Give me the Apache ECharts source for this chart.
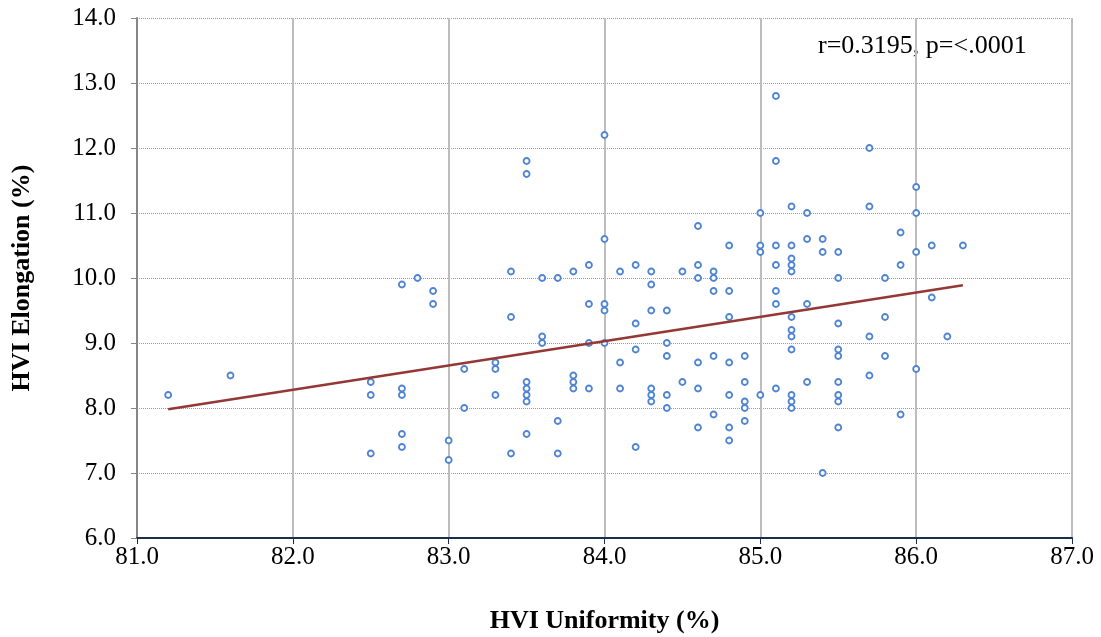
<!DOCTYPE html>
<html>
<head>
<meta charset="utf-8">
<title>HVI Uniformity vs Elongation</title>
<script src="https://cdn.jsdelivr.net/npm/echarts@6/dist/echarts.min.js"></script>
<style>
    html, body { margin: 0; padding: 0; background: #fff; }
    #chart { width: 1101px; height: 637px; }
</style>
</head>
<body>
<div id="chart"></div>
<script>
// HVI uniformity (x) and elongation (y), one entry per sample
const uniformity = [
    81.2, 81.6, 82.5, 82.5, 82.5, 82.7, 82.7, 82.7, 82.7, 82.7,
    82.8, 82.9, 82.9, 83.0, 83.0, 83.1, 83.1, 83.3, 83.3, 83.3,
    83.4, 83.4, 83.4, 83.5, 83.5, 83.5, 83.5, 83.5, 83.5, 83.5,
    83.6, 83.6, 83.6, 83.7, 83.7, 83.7, 83.8, 83.8, 83.8, 83.8,
    83.9, 83.9, 83.9, 83.9, 84.0, 84.0, 84.0, 84.0, 84.0, 84.1,
    84.1, 84.1, 84.2, 84.2, 84.2, 84.2, 84.3, 84.3, 84.3, 84.3,
    84.3, 84.3, 84.4, 84.4, 84.4, 84.4, 84.4, 84.5, 84.5, 84.6,
    84.6, 84.6, 84.6, 84.6, 84.6, 84.7, 84.7, 84.7, 84.7, 84.7,
    84.8, 84.8, 84.8, 84.8, 84.8, 84.8, 84.8, 84.9, 84.9, 84.9,
    84.9, 84.9, 85.0, 85.0, 85.0, 85.0, 85.1, 85.1, 85.1, 85.1,
    85.1, 85.1, 85.1, 85.2, 85.2, 85.2, 85.2, 85.2, 85.2, 85.2,
    85.2, 85.2, 85.2, 85.2, 85.2, 85.3, 85.3, 85.3, 85.3, 85.4,
    85.4, 85.4, 85.5, 85.5, 85.5, 85.5, 85.5, 85.5, 85.5, 85.5,
    85.5, 85.7, 85.7, 85.7, 85.7, 85.8, 85.8, 85.8, 85.9, 85.9,
    85.9, 86.0, 86.0, 86.0, 86.0, 86.1, 86.1, 86.2, 86.3,
];
const elongation = [
    8.2, 8.5, 8.4, 8.2, 7.3, 9.9, 8.3, 8.2, 7.6, 7.4,
    10.0, 9.8, 9.6, 7.5, 7.2, 8.6, 8.0, 8.7, 8.6, 8.2,
    10.1, 9.4, 7.3, 11.8, 11.6, 8.4, 8.3, 8.2, 8.1, 7.6,
    10.0, 9.1, 9.0, 10.0, 7.8, 7.3, 10.1, 8.5, 8.4, 8.3,
    10.2, 9.6, 9.0, 8.3, 12.2, 10.6, 9.6, 9.5, 9.0, 10.1,
    8.7, 8.3, 10.2, 9.3, 8.9, 7.4, 10.1, 9.9, 9.5, 8.3,
    8.2, 8.1, 9.5, 9.0, 8.8, 8.2, 8.0, 10.1, 8.4, 10.8,
    10.2, 10.0, 8.7, 8.3, 7.7, 10.1, 10.0, 9.8, 8.8, 7.9,
    10.5, 9.8, 9.4, 8.7, 8.2, 7.7, 7.5, 8.8, 8.4, 8.1,
    8.0, 7.8, 11.0, 10.5, 10.4, 8.2, 12.8, 11.8, 10.5, 10.2,
    9.8, 9.6, 8.3, 11.1, 10.5, 10.3, 10.2, 10.1, 9.4, 9.2,
    9.1, 8.9, 8.2, 8.1, 8.0, 11.0, 10.6, 9.6, 8.4, 10.6,
    10.4, 7.0, 10.4, 10.0, 9.3, 8.9, 8.8, 8.4, 8.2, 8.1,
    7.7, 12.0, 11.1, 9.1, 8.5, 10.0, 9.4, 8.8, 10.7, 10.2,
    7.9, 11.4, 11.0, 10.4, 8.6, 10.5, 9.7, 9.1, 10.5,
];

// linear trend, end points as drawn
const trendX = [81.2, 86.3];
const trendY = [7.98, 9.89];

const statText = 'r=0.3195, p=<.0001';

const fontFamily = '"Liberation Serif", "DejaVu Serif", serif';

const points = uniformity.map((u, i) => [u, elongation[i]]);
const trend = trendX.map((x, i) => [x, trendY[i]]);

const chartOptions = {
    animation: false,
    backgroundColor: '#fff',
    grid: {
        left: 137,
        right: 29,
        top: 18,
        bottom: 99,
        outerBoundsMode: 'none',
    },
    xAxis: {
        type: 'value',
        min: 81,
        max: 87,
        interval: 1,
        name: 'HVI Uniformity (%)',
        nameLocation: 'middle',
        nameGap: 70,
        nameTextStyle: {
            fontFamily,
            fontSize: 26,
            fontWeight: 'bold',
            color: '#000',
        },
        axisLine: {
            lineStyle: { color: '#1c2d4a', width: 2 },
        },
        axisTick: {
            show: true,
            length: 6,
            lineStyle: { color: '#1c2d4a', width: 1 },
        },
        axisLabel: {
            fontFamily,
            fontSize: 25,
            color: '#000',
            margin: 7,
            formatter: (v) => v.toFixed(1),
        },
        splitLine: {
            show: true,
            lineStyle: { color: '#bdbdbd', width: 2, type: 'solid' },
        },
    },
    yAxis: {
        type: 'value',
        min: 6,
        max: 14,
        interval: 1,
        name: 'HVI Elongation (%)',
        nameLocation: 'middle',
        nameGap: 102,
        nameTextStyle: {
            fontFamily,
            fontSize: 26,
            fontWeight: 'bold',
            color: '#000',
        },
        axisLine: {
            show: true,
            lineStyle: { color: '#868686', width: 2 },
        },
        axisTick: {
            show: true,
            length: 6,
            lineStyle: { color: '#868686', width: 1 },
        },
        axisLabel: {
            fontFamily,
            fontSize: 25,
            color: '#000',
            margin: 21,
            formatter: (v) => v.toFixed(1),
        },
        splitLine: {
            show: true,
            lineStyle: { color: '#9a9a9a', width: 1, type: 'dotted' },
        },
    },
    graphic: [
        {
            type: 'text',
            left: 818,
            top: 33,
            style: {
                text: statText,
                font: '26px ' + fontFamily,
                fill: '#000',
            },
        },
    ],
    series: [
        {
            type: 'scatter',
            data: points,
            symbol: 'circle',
            symbolSize: 6,
            itemStyle: {
                color: '#fff',
                borderColor: '#4f83d4',
                borderWidth: 1.8,
                opacity: 1,
            },
            z: 3,
        },
        {
            type: 'line',
            data: trend,
            symbol: 'none',
            lineStyle: { color: '#953735', width: 2.5 },
            z: 4,
        },
    ],
};

const statsChart = echarts.init(document.getElementById('chart'));
statsChart.setOption(chartOptions);
</script>
</body>
</html>
